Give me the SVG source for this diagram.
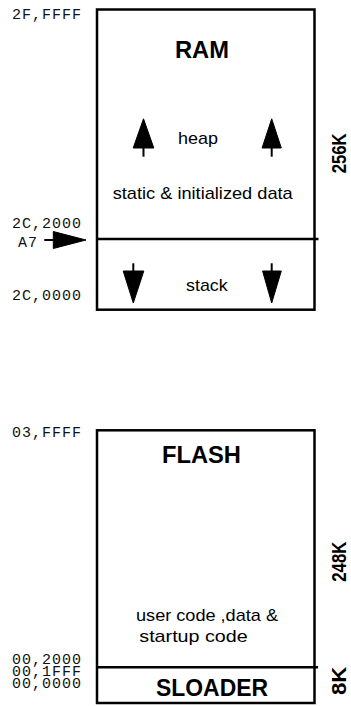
<svg xmlns="http://www.w3.org/2000/svg" width="351" height="706" viewBox="0 0 351 706">
  <style>
    .box { fill: #fff; stroke: #000; stroke-width: 2.5; }
    .div { stroke: #000; stroke-width: 2.5; fill: none; }
    .addr { font-family: "Liberation Mono", "Courier New", monospace; font-size: 15px; letter-spacing: 1px; fill: #111; }
    .title { font-family: "Liberation Sans", Arial, Helvetica, sans-serif; font-size: 23px; font-weight: bold; fill: #000; }
    .txt { font-family: "Liberation Sans", Arial, Helvetica, sans-serif; font-size: 17px; fill: #000; }
    .size { font-family: "Liberation Sans", Arial, Helvetica, sans-serif; font-size: 20px; font-weight: bold; fill: #000; }
    .shaft { stroke: #000; stroke-width: 2; }
    .head { fill: #000; stroke: #000; stroke-width: 1; stroke-linejoin: round; }
  </style>

  <!-- RAM region -->
  <g id="ram">
    <rect class="box" x="97" y="9.5" width="217.5" height="300.2"/>
    <line class="div" x1="96" y1="239" x2="318.5" y2="239"/>
    <text class="title" x="175" y="58.3" textLength="54" lengthAdjust="spacingAndGlyphs">RAM</text>
    <text class="txt" x="178" y="144.3" textLength="40" lengthAdjust="spacingAndGlyphs">heap</text>
    <text class="txt" x="112.7" y="199.3" textLength="180" lengthAdjust="spacingAndGlyphs">static &amp; initialized data</text>
    <text class="txt" x="186" y="290.7" textLength="41.7" lengthAdjust="spacingAndGlyphs">stack</text>
    <text class="size" transform="translate(346,173.3) rotate(-90)" textLength="40" lengthAdjust="spacingAndGlyphs">256K</text>
  </g>

  <!-- FLASH region -->
  <g id="flash">
    <rect class="box" x="97" y="430.3" width="217.5" height="272.7"/>
    <line class="div" x1="96" y1="667.3" x2="318" y2="667.3"/>
    <text class="title" x="162" y="463.3" textLength="79" lengthAdjust="spacingAndGlyphs">FLASH</text>
    <text class="txt" x="136" y="620.7" textLength="142" lengthAdjust="spacingAndGlyphs">user code ,data &amp;</text>
    <text class="txt" x="139.3" y="641.7" textLength="108.4" lengthAdjust="spacingAndGlyphs">startup code</text>
    <text class="title" x="156" y="696" textLength="112" lengthAdjust="spacingAndGlyphs">SLOADER</text>
    <text class="size" transform="translate(346,581.7) rotate(-90)" textLength="40" lengthAdjust="spacingAndGlyphs">248K</text>
    <text class="size" transform="translate(346,695) rotate(-90)" textLength="28.3" lengthAdjust="spacingAndGlyphs">8K</text>
  </g>

  <!-- address labels -->
  <g id="addresses">
    <text class="addr" x="12" y="18.5">2F,FFFF</text>
    <text class="addr" x="12" y="228.3">2C,2000</text>
    <text class="addr" x="18" y="247.3">A7</text>
    <text class="addr" x="12" y="300">2C,0000</text>
    <text class="addr" x="12" y="437.3">03,FFFF</text>
    <text class="addr" x="12" y="664.3">00,2000</text>
    <text class="addr" x="12" y="676">00,1FFF</text>
    <text class="addr" x="12" y="687.7">00,0000</text>
  </g>

  <!-- arrows -->
  <g id="connectors">
    <!-- A7 pointer -->
    <line class="shaft" x1="44.3" y1="240" x2="54" y2="240"/>
    <polygon class="head" points="53.3,231.5 86,240 53.3,248.5"/>
    <!-- heap grows up -->
    <line class="shaft" x1="143.5" y1="146" x2="143.5" y2="156.7"/>
    <polygon class="head" points="143.5,118.8 153.8,148 133.2,148"/>
    <line class="shaft" x1="271.7" y1="146" x2="271.7" y2="156.7"/>
    <polygon class="head" points="271.7,118.8 281.3,148 262.1,148"/>
    <!-- stack grows down -->
    <line class="shaft" x1="133.3" y1="263.3" x2="133.3" y2="273"/>
    <polygon class="head" points="123.2,271 143.8,271 133.3,303"/>
    <line class="shaft" x1="271.7" y1="263.3" x2="271.7" y2="273"/>
    <polygon class="head" points="262.6,271 281.3,271 271.7,303"/>
  </g>
</svg>
